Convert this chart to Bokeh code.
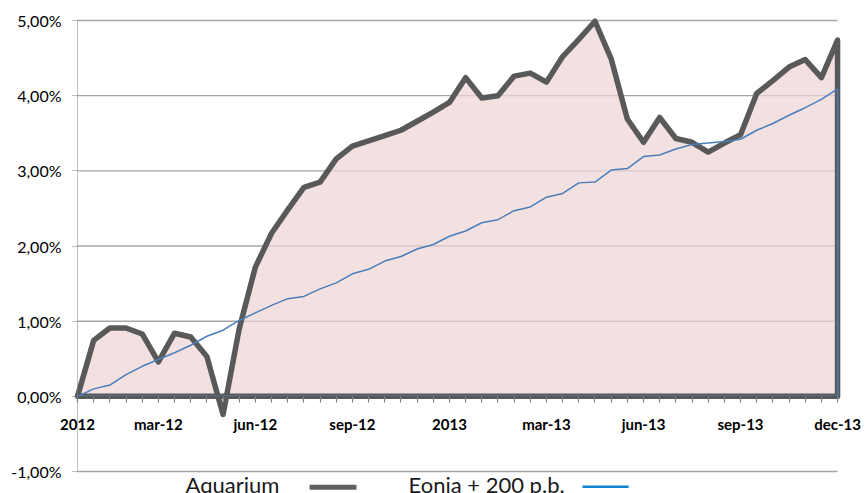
from bokeh.plotting import figure
from bokeh.models import FixedTicker, Range1d, Label, BoxAnnotation
from bokeh.embed import file_html
from bokeh.resources import INLINE

# ---- data -----------------------------------------------------------------
aquarium = [0.00, 0.745, 0.91, 0.91, 0.83, 0.46, 0.84, 0.79, 0.53, -0.24,
            0.90, 1.72, 2.17, 2.48, 2.78, 2.85, 3.16, 3.33, 3.40, 3.47,
            3.54, 3.66, 3.78, 3.91, 4.24, 3.97, 4.00, 4.26, 4.30, 4.18,
            4.52, 4.75, 4.99, 4.49, 3.69, 3.38, 3.71, 3.43, 3.38, 3.25,
            3.37, 3.48, 4.03, 4.20, 4.38, 4.48, 4.24, 4.74]
eonia = [0.00, 0.10, 0.15, 0.29, 0.40, 0.49, 0.58, 0.68, 0.80, 0.88,
         1.01, 1.11, 1.21, 1.30, 1.33, 1.43, 1.51, 1.63, 1.69, 1.80,
         1.86, 1.96, 2.02, 2.13, 2.20, 2.31, 2.35, 2.47, 2.52, 2.65,
         2.70, 2.84, 2.85, 3.01, 3.03, 3.19, 3.21, 3.29, 3.35, 3.37,
         3.39, 3.42, 3.54, 3.63, 3.74, 3.84, 3.95, 4.09]
x_label_pos = [0, 5, 11, 17, 23, 29, 35, 41, 47]
x_labels = ["2012", "mar-12", "jun-12", "sep-12", "2013",
            "mar-13", "jun-13", "sep-13", "dec-13"]
y_ticks = [-1, 0, 1, 2, 3, 4, 5]
y_labels = ["-1,00%", "0,00%", "1,00%", "2,00%", "3,00%", "4,00%", "5,00%"]
series_names = ["Aquarium", "Eonia + 200 p.b."]

idx = list(range(len(aquarium)))

# ---- figure (frame covers the whole canvas; axes drawn at fixed spots) ----
p = figure(width=866, height=493, output_backend="svg", toolbar_location=None,
           x_range=Range1d(-4.762, 48.79),
           y_range=Range1d(-1.292, 5.266),
           min_border_left=0, min_border_right=0,
           min_border_top=0, min_border_bottom=0)
p.outline_line_color = None
p.grid.visible = False
p.background_fill_color = "white"
p.border_fill_color = "white"

# gridlines (from tick values, spanning the data extent)
p.segment(x0=[idx[0]] * len(y_ticks), x1=[idx[-1]] * len(y_ticks),
          y0=y_ticks, y1=y_ticks, line_color="#a6a6a6", line_width=1.4)

# Aquarium area with thick border
px = idx + [idx[-1], idx[0]]
p.patch(px, aquarium + [0, 0], fill_color="#eed5d5", fill_alpha=0.72,
        line_color=None)
p.patch(px, aquarium + [0, 0], fill_alpha=0, line_color="#595959",
        line_width=5.5, line_join="round")
# Eonia + 200 p.b. (area without fill)
p.patch(px, eonia + [0, 0], fill_alpha=0, line_color="#4a7ebb",
        line_width=1.5, line_join="round")

# ---- axes -----------------------------------------------------------------
xa = p.xaxis[0]
xa.fixed_location = 0
xa.bounds = (idx[0], idx[-1])
xa.ticker = FixedTicker(ticks=idx, minor_ticks=[])
xa.major_label_overrides = {i: (x_labels[x_label_pos.index(i)] if i in x_label_pos else "")
                            for i in idx}
xa.axis_line_color = "#595959"
xa.axis_line_width = 1
xa.major_tick_line_color = "#808080"
xa.major_tick_line_width = 1.2
xa.major_tick_out = 6
xa.major_tick_in = 0
xa.minor_tick_line_color = None
xa.major_label_text_font = "Lato"
xa.major_label_text_font_style = "bold"
xa.major_label_text_font_size = "15px"
xa.major_label_text_color = "#000000"
xa.major_label_standoff = 13

ya = p.yaxis[0]
ya.fixed_location = idx[0]
ya.bounds = (y_ticks[0], y_ticks[-1])
ya.ticker = FixedTicker(ticks=y_ticks, minor_ticks=[])
ya.major_label_overrides = {t: l for t, l in zip(y_ticks, y_labels)}
ya.axis_line_color = "#808080"
ya.axis_line_dash = "1 1"
ya.major_tick_line_color = "#808080"
ya.major_tick_line_dash = "1 1"
ya.major_tick_out = 5
ya.major_tick_in = 0
ya.minor_tick_line_color = None
ya.major_label_text_font = "Lato"
ya.major_label_text_font_size = "16px"
ya.major_label_text_color = "#000000"
ya.major_label_standoff = 11

# ---- legend (text followed by swatch, as in the original) -----------------
p.add_layout(Label(x=6.68, y=-1.17, text=series_names[0], text_font="Lato",
                   text_font_size="22px", text_color="#1a1a1a",
                   text_baseline="alphabetic", text_align="left"))
p.add_layout(BoxAnnotation(left=14.35, right=17.25, top=-1.177, bottom=-1.243,
                           fill_color="#606060", fill_alpha=1, line_color=None))
p.add_layout(Label(x=20.47, y=-1.17, text=series_names[1], text_font="Lato",
                   text_font_size="22px", text_color="#1a1a1a",
                   text_baseline="alphabetic", text_align="left"))
p.add_layout(BoxAnnotation(left=31.23, right=34.08, top=-1.186, bottom=-1.219,
                           fill_color="#1482d2", fill_alpha=1, line_color=None))

open("out.html", "w").write(file_html(p, INLINE))
